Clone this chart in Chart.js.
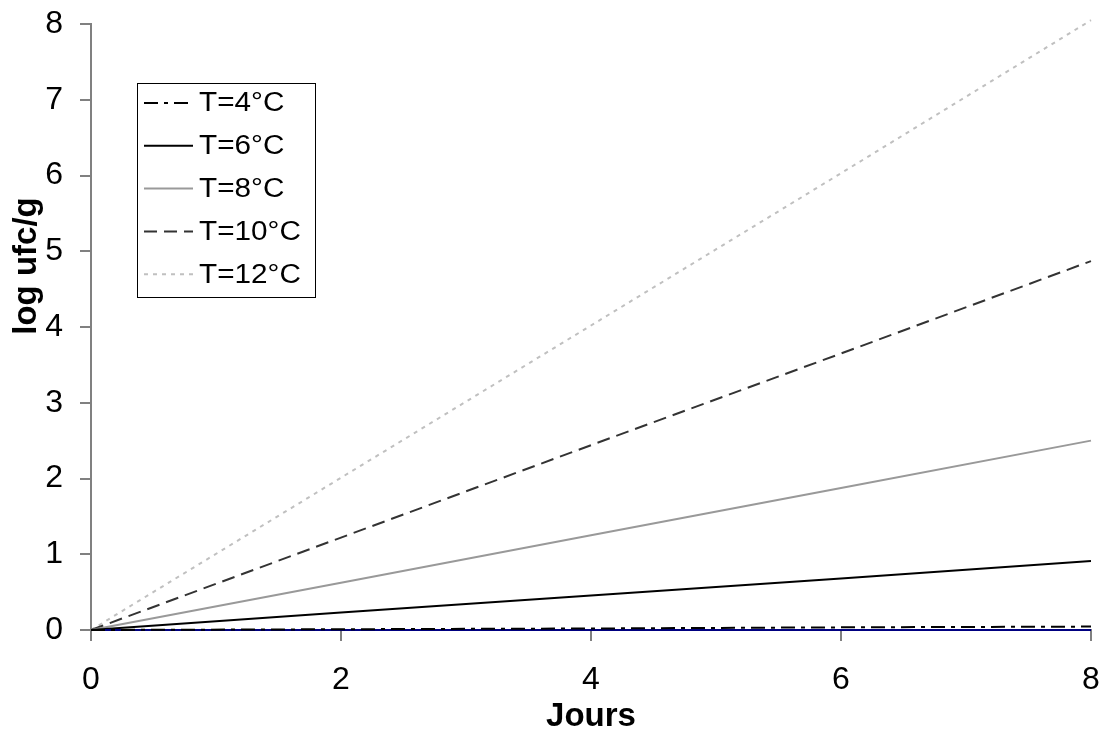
<!DOCTYPE html>
<html>
<head>
<meta charset="utf-8">
<script src="https://cdn.jsdelivr.net/npm/chart.js@4/dist/chart.umd.min.js"></script>
<style>
  html, body { margin: 0; padding: 0; background: #ffffff; }
  #wrap { width: 1102px; height: 737px; position: relative; }
</style>
</head>
<body>
<div id="wrap"><canvas id="c" width="1102" height="737"></canvas></div>
<script>
// ---- data ----
const days = [0, 2, 4, 6, 8];
const t4  = [0, 0.01, 0.02, 0.035, 0.045];
const t6  = [0, 0.23, 0.455, 0.68, 0.91];
const t8  = [0, 0.625, 1.25, 1.875, 2.50];
const t10 = [0, 1.22, 2.44, 3.65, 4.87];
const t12 = [0, 2.01, 4.02, 6.03, 8.05];
const baseline = [0, 0, 0, 0, 0];
const seriesLabels = ['T=4°C', 'T=6°C', 'T=8°C', 'T=10°C', 'T=12°C'];
const xTicks = [0, 2, 4, 6, 8];
const yTicks = [0, 1, 2, 3, 4, 5, 6, 7, 8];
const xTitle = 'Jours';
const yTitle = 'log ufc/g';

const pts = (arr) => days.map((d, i) => ({ x: d, y: arr[i] }));
const FONT = "'Liberation Sans', Arial, sans-serif";

const datasets = [
  { label: seriesLabels[4], data: pts(t12), borderColor: '#c0c0c0', borderWidth: 2, borderDash: [4, 5], inLegend: true, order: 5 },
  { label: seriesLabels[3], data: pts(t10), borderColor: '#333333', borderWidth: 2, borderDash: [13, 7], inLegend: true, order: 4 },
  { label: seriesLabels[2], data: pts(t8),  borderColor: '#999999', borderWidth: 2, borderDash: [], inLegend: true, order: 3 },
  { label: seriesLabels[1], data: pts(t6),  borderColor: '#000000', borderWidth: 2, borderDash: [], inLegend: true, order: 2 },
  { label: '', data: pts(baseline), borderColor: '#000080', borderWidth: 2, borderDash: [], inLegend: false, order: 1 },
  { label: seriesLabels[0], data: pts(t4),  borderColor: '#000000', borderWidth: 2, borderDash: [14, 6, 4, 6], inLegend: true, order: 0 },
];
datasets.forEach(d => { d.pointRadius = 0; d.fill = false; d.tension = 0; d.clip = 6; });

const legendPlugin = {
  id: 'boxLegend',
  afterDraw(chart) {
    const ctx = chart.ctx;
    const ca = chart.chartArea;
    const bx = ca.left + 46, by = ca.top + 59, bw = 178, bh = 214;
    ctx.save();
    ctx.fillStyle = '#ffffff';
    ctx.fillRect(bx, by, bw, bh);
    ctx.strokeStyle = '#000000';
    ctx.lineWidth = 1;
    ctx.strokeRect(bx + 0.5, by + 0.5, bw, bh);
    seriesLabels.forEach((lab, i) => {
      const ds = chart.data.datasets.find(d => d.label === lab);
      const y = by + 20 + i * 42.8;
      ctx.save();
      ctx.strokeStyle = ds.borderColor;
      ctx.lineWidth = ds.borderWidth;
      ctx.setLineDash(ds.borderDash || []);
      ctx.beginPath();
      ctx.moveTo(bx + 7, y);
      ctx.lineTo(bx + 56, y);
      ctx.stroke();
      ctx.restore();
      ctx.save();
      ctx.fillStyle = '#000000';
      ctx.font = '27px ' + FONT;
      ctx.textBaseline = 'middle';
      ctx.textAlign = 'left';
      ctx.translate(bx + 62, y + 1);
      ctx.scale(1.1, 1);
      ctx.fillText(lab, 0, 0);
      ctx.restore();
    });
    // y axis title
    ctx.save();
    ctx.fillStyle = '#000000';
    ctx.font = 'bold 33px ' + FONT;
    ctx.textAlign = 'center';
    ctx.textBaseline = 'middle';
    ctx.translate(27, 266);
    ctx.rotate(-Math.PI / 2);
    ctx.fillText(yTitle, 0, 0);
    ctx.restore();
    ctx.restore();
  }
};

new Chart(document.getElementById('c'), {
  type: 'line',
  data: { datasets },
  options: {
    responsive: false,
    animation: false,
    devicePixelRatio: 1,
    layout: { padding: { top: 24, right: 11, left: 0, bottom: 0 } },
    plugins: { legend: { display: false }, tooltip: { enabled: false } },
    scales: {
      x: {
        type: 'linear', min: 0, max: 8,
        afterBuildTicks: (s) => { s.ticks = xTicks.map(v => ({ value: v })); },
        afterFit: (s) => { s.height = 107; s.paddingLeft = 0; s.paddingRight = 0; },
        ticks: { color: '#000000', font: { family: FONT, size: 32 }, padding: 20, maxRotation: 0 },
        grid: { drawOnChartArea: false, drawTicks: true, tickLength: 11, color: '#808080', lineWidth: 2 },
        border: { display: true, color: '#808080', width: 2 },
        title: { display: true, text: xTitle, color: '#000000', font: { family: FONT, size: 33, weight: 'bold' }, padding: { top: 0, bottom: 0 } }
      },
      y: {
        type: 'linear', min: 0, max: 8,
        afterBuildTicks: (s) => { s.ticks = yTicks.map(v => ({ value: v })); },
        afterFit: (s) => { s.width = 91; s.paddingTop = 0; s.paddingBottom = 0; },
        ticks: { color: '#000000', font: { family: FONT, size: 32 }, padding: 17 },
        grid: { drawOnChartArea: false, drawTicks: true, tickLength: 11, color: '#808080', lineWidth: 2 },
        border: { display: true, color: '#808080', width: 2 }
      }
    }
  },
  plugins: [legendPlugin]
});
</script>
</body>
</html>
